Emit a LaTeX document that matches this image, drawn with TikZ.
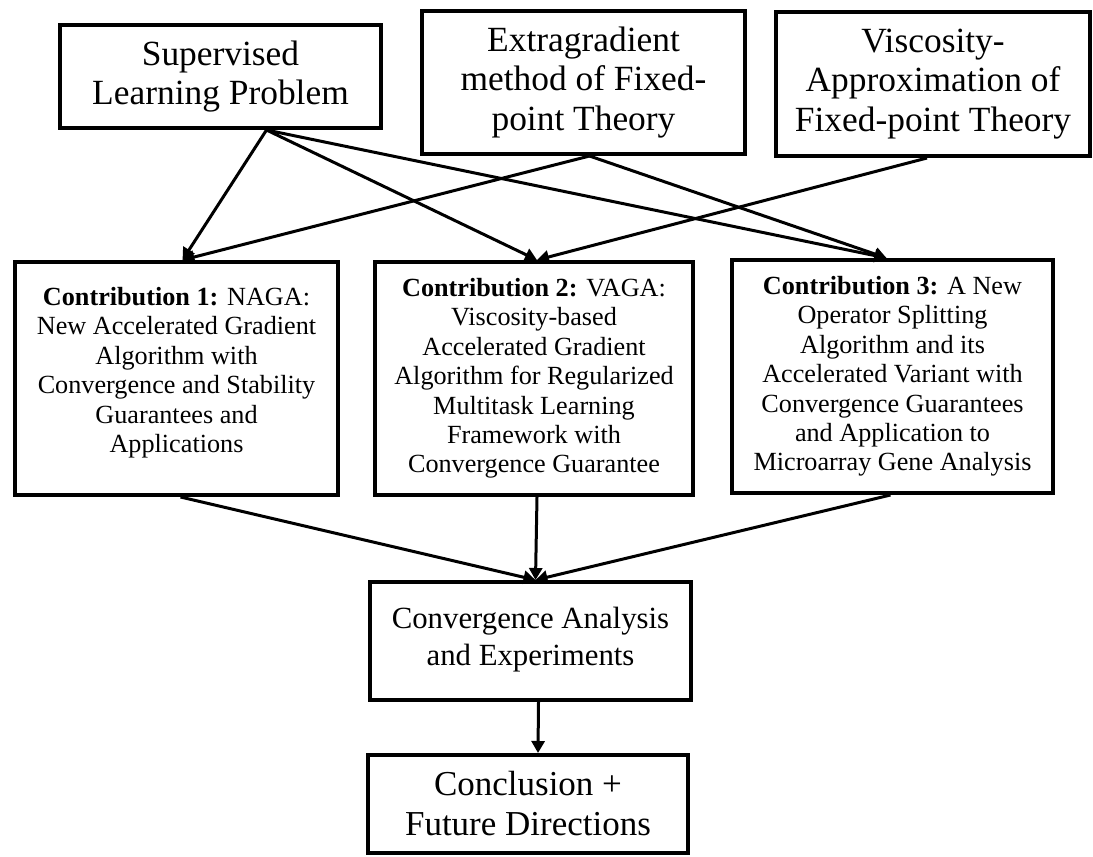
\documentclass[tikz,border=0pt]{standalone}
\usepackage{fontspec}
\setmainfont{Liberation Serif}
\usetikzlibrary{arrows.meta}

\begin{document}
\begin{tikzpicture}[x=0.5pt,y=-0.5pt,
    box/.style={draw, line width=2pt, align=center, inner sep=0pt},
    topbox/.style={box, font=\fontsize{17.7}{19.8}\selectfont},
    contrib/.style={box, font=\fontsize{13.1}{14.7}\selectfont, minimum height=116.5pt},
    arr/.style={line width=1.5pt, -{Triangle[length=6pt,width=6.5pt]}}]
    \useasboundingbox (0,0) rectangle (1093,857);
    % sources
    \node[topbox, minimum width=160.5pt, minimum height=51.5pt] (slp) at (220.5,76.5) {Supervised\\Learning Problem};
    \node[topbox, minimum width=161.5pt, minimum height=71.5pt] (extra) at (583.5,82.5) {Extragradient\\method of Fixed-\\point Theory};
    \node[topbox, minimum width=157pt, minimum height=72pt] (visc) at (933,84) {Viscosity-\\Approximation of\\Fixed-point Theory};
    % contributions
    \node[contrib, minimum width=161.5pt] (c1) at (176.5,378.5) {\textbf{Contribution 1:} NAGA:\\New Accelerated Gradient\\Algorithm with\\Convergence and Stability\\Guarantees and\\Applications\\[-6.2pt]};
    \node[contrib, minimum width=159pt] (c2) at (534,378.5) {\textbf{Contribution 2:} VAGA:\\Viscosity-based\\Accelerated Gradient\\Algorithm for Regularized\\Multitask Learning\\Framework with\\Convergence Guarantee};
    \node[contrib, minimum width=160.5pt] (c3) at (892.5,376.5) {\textbf{Contribution 3:} A New\\Operator Splitting\\Algorithm and its\\Accelerated Variant with\\Convergence Guarantees\\and Application to\\Microarray Gene Analysis};
    % results
    \node[box, font=\fontsize{15.4}{18.5}\selectfont, minimum width=160.5pt, minimum height=59pt] (conv) at (530.5,641) {Convergence Analysis\\and Experiments\\[-13.5pt]};
    \node[box, font=\fontsize{17.5}{20}\selectfont, minimum width=160pt, minimum height=49pt] (concl) at (528,804) {Conclusion +\\Future Directions};

    \coordinate (slpout) at ([xshift=23pt]slp.south);
    \coordinate (extraout) at ([xshift=3pt]extra.south);
    \coordinate (viscout) at ([xshift=-3pt]visc.south);
    \coordinate (c1in) at ([xshift=3pt]c1.north);
    \coordinate (c2in) at ([xshift=1.5pt]c2.north);
    \coordinate (c3in) at ([xshift=-3pt]c3.north);
    \coordinate (convin) at ([xshift=2.5pt]conv.north);

    \draw[arr] (slpout) -- (c1in);
    \draw[arr] (slpout) -- (c2in);
    \draw[arr] (slpout) -- (c3in);
    \draw[arr] (extraout) -- (c1in);
    \draw[arr] (extraout) -- (c3in);
    \draw[arr] (viscout) -- (c2in);
    \draw[arr] ([xshift=2pt]c1.south) -- (convin);
    \draw[arr] ([xshift=1.5pt]c2.south) -- (convin);
    \draw[arr] ([xshift=-1pt]c3.south) -- (convin);
    \draw[arr] ([xshift=4pt]conv.south) -- ([xshift=5pt]concl.north);
\end{tikzpicture}
\end{document}
